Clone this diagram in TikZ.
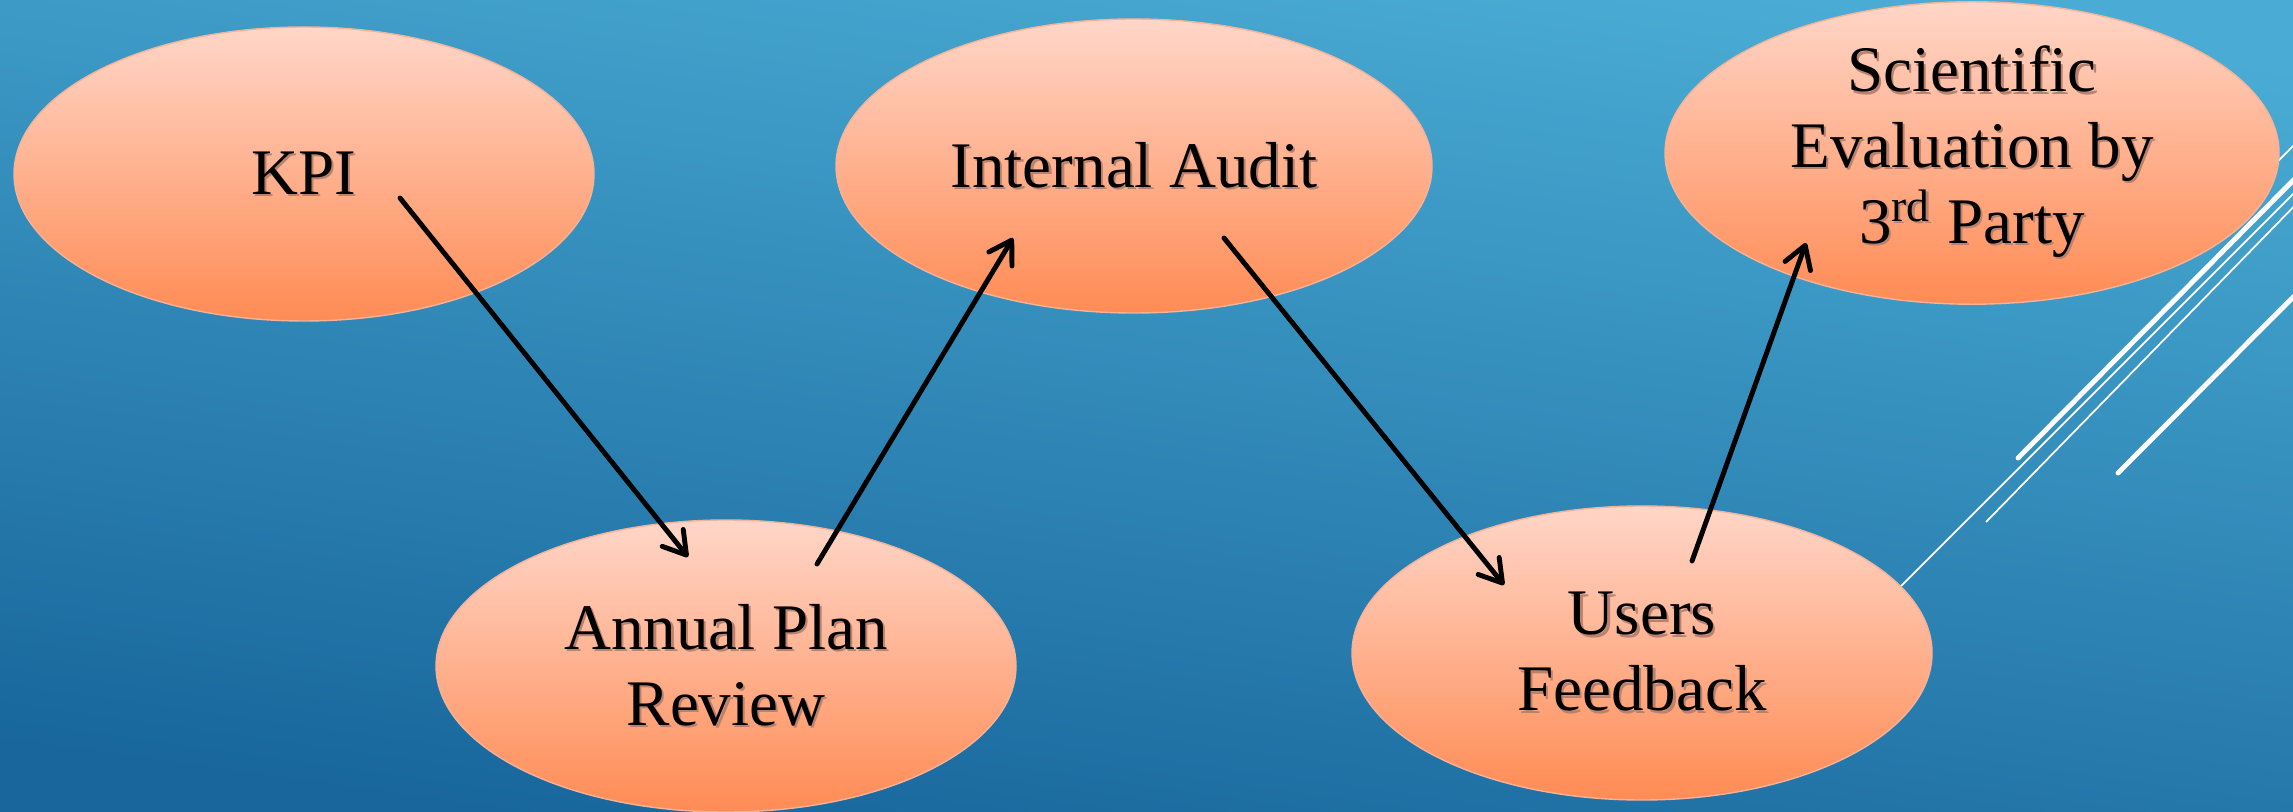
\documentclass[tikz,border=0pt]{standalone}
\usepackage{fontspec}
\setmainfont{Liberation Serif}
\usetikzlibrary{shapes.geometric,arrows.meta}
\definecolor{bgtop}{RGB}{74,172,212}
\definecolor{bgbot}{RGB}{24,102,156}
\definecolor{eltop}{RGB}{255,214,200}
\definecolor{elbot}{RGB}{255,139,84}
\definecolor{elrim}{RGB}{246,178,152}
\definecolor{txsh}{RGB}{185,130,110}
\newcommand\shtx[1]{\makebox[0pt][l]{\hspace{0.022cm}\raisebox{-0.022cm}{\color{txsh}#1}}#1}
\begin{document}
\begin{tikzpicture}
\tikzset{
  oval/.style={ellipse, inner sep=0pt, top color=eltop, bottom color=elbot,
    draw=elrim, line width=0.4pt, align=center, text=black,
    font=\fontsize{18.5pt}{21.6pt}\selectfont},
  arr/.style={-{Straight Barb[length=0.22cm,width=0.27cm,line cap=round,line join=round]},
    line width=1.4pt, line cap=round, black},
  decothin/.style={white, line width=0.5pt},
  decothick/.style={white, line width=1.4pt, line cap=round},
}
\useasboundingbox (0,0) rectangle (22.93,-8.12);
\shade[top color=bgtop, bottom color=bgbot, shading angle=-8] (0,0) rectangle (22.93,-8.12);
% decorative white lines
\begin{scope}
  \clip (0,0) rectangle (22.93,-8.12);
  \draw[decothin]  (18.50,-6.37) -- (23.50,-1.37);
  \draw[decothick] (20.18,-4.58) -- (23.50,-1.23);
  \draw[decothin]  (19.86,-5.22) -- (23.50,-1.49);
  \draw[decothin]  (22.00,-2.39) -- (23.50,-0.89);
  \draw[decothick] (21.18,-4.73) -- (23.50,-2.40);
\end{scope}
% ellipses
\node[oval, minimum width=5.80cm, minimum height=2.94cm] (kpi) at (3.04,-1.74) {\shtx{KPI}};
\node[oval, minimum width=5.80cm, minimum height=2.92cm] (apr) at (7.26,-6.66) {\shtx{Annual Plan}\\\shtx{Review}};
\node[oval, minimum width=5.96cm, minimum height=2.94cm] (ia) at (11.34,-1.66) {\shtx{Internal Audit}};
\node[oval, minimum width=5.80cm, minimum height=2.94cm] (uf) at (16.42,-6.53) {\shtx{Users}\\\shtx{Feedback}};
\node[oval, minimum width=6.14cm, minimum height=2.94cm] (sci) at (19.72,-1.53) {\shtx{Scientific}\\\shtx{Evaluation by}\\\shtx{3\textsuperscript{rd} Party}};
% connectors
\draw[arr] ([shift={(0.96,-0.24)}]kpi.center) -- ([shift={(-0.38,1.09)}]apr.center);
\draw[arr] ([shift={(0.91,1.02)}]apr.center) -- ([shift={(-1.21,-0.72)}]ia.center);
\draw[arr] ([shift={(0.90,-0.72)}]ia.center) -- ([shift={(-1.38,0.68)}]uf.center);
\draw[arr] ([shift={(0.50,0.92)}]uf.center) -- ([shift={(-1.66,-0.90)}]sci.center);
\end{tikzpicture}
\end{document}
